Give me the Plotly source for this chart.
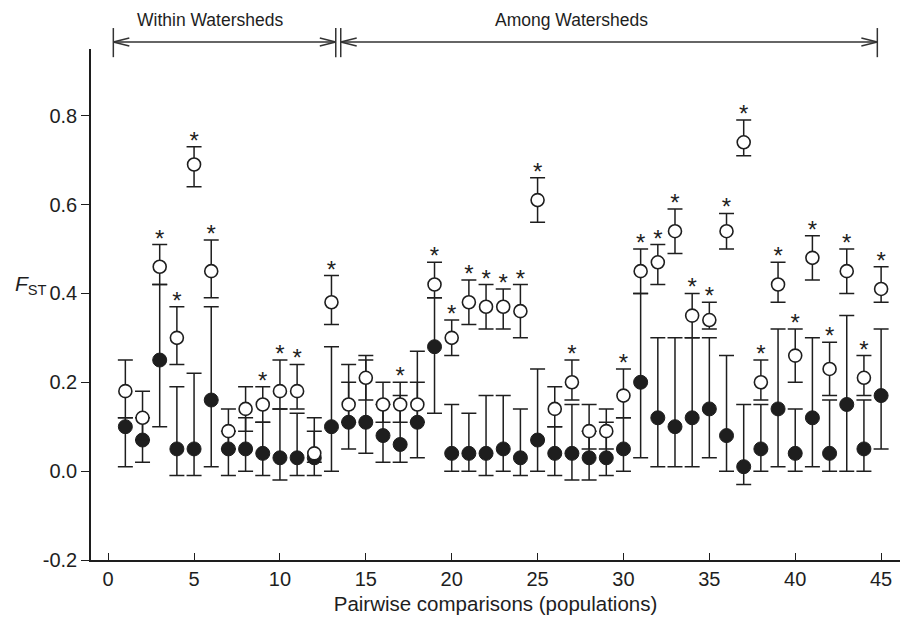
import plotly.graph_objects as go

comparisons = list(range(1, 46))

open_vals = [0.18, 0.12, 0.46, 0.30, 0.69, 0.45, 0.09, 0.14, 0.15, 0.18,
             0.18, 0.04, 0.38, 0.15, 0.21, 0.15, 0.15, 0.15, 0.42, 0.30,
             0.38, 0.37, 0.37, 0.36, 0.61, 0.14, 0.20, 0.09, 0.09, 0.17,
             0.45, 0.47, 0.54, 0.35, 0.34, 0.54, 0.74, 0.20, 0.42, 0.26,
             0.48, 0.23, 0.45, 0.21, 0.41]
open_lo = [0.12, 0.07, 0.42, 0.24, 0.64, 0.39, 0.05, 0.09, 0.11, 0.14,
           0.14, 0.02, 0.33, 0.11, 0.16, 0.11, 0.11, 0.11, 0.39, 0.26,
           0.33, 0.32, 0.32, 0.30, 0.56, 0.10, 0.16, 0.05, 0.05, 0.12,
           0.40, 0.42, 0.49, 0.30, 0.32, 0.50, 0.71, 0.16, 0.38, 0.20,
           0.43, 0.17, 0.40, 0.17, 0.38]
open_hi = [0.25, 0.18, 0.51, 0.37, 0.73, 0.52, 0.14, 0.19, 0.19, 0.25,
           0.24, 0.12, 0.44, 0.24, 0.26, 0.20, 0.20, 0.20, 0.47, 0.34,
           0.43, 0.42, 0.41, 0.42, 0.66, 0.19, 0.25, 0.15, 0.14, 0.23,
           0.50, 0.51, 0.59, 0.40, 0.38, 0.58, 0.79, 0.25, 0.47, 0.32,
           0.53, 0.29, 0.50, 0.26, 0.46]

filled_vals = [0.10, 0.07, 0.25, 0.05, 0.05, 0.16, 0.05, 0.05, 0.04, 0.03,
               0.03, 0.03, 0.10, 0.11, 0.11, 0.08, 0.06, 0.11, 0.28, 0.04,
               0.04, 0.04, 0.05, 0.03, 0.07, 0.04, 0.04, 0.03, 0.03, 0.05,
               0.20, 0.12, 0.10, 0.12, 0.14, 0.08, 0.01, 0.05, 0.14, 0.04,
               0.12, 0.04, 0.15, 0.05, 0.17]
filled_lo = [0.01, 0.02, 0.10, -0.01, -0.01, 0.01, -0.01, 0.00, -0.01, -0.02,
             -0.01, -0.01, 0.00, 0.05, 0.04, 0.02, 0.02, 0.03, 0.13, 0.00,
             0.00, -0.01, 0.00, -0.01, 0.00, -0.01, -0.02, -0.02, -0.01, 0.00,
             0.03, 0.01, 0.01, 0.01, 0.03, 0.00, -0.03, 0.00, 0.01, 0.00,
             0.01, 0.00, 0.00, 0.00, 0.05]
filled_hi = [0.12, 0.12, 0.42, 0.19, 0.22, 0.37, 0.09, 0.12, 0.11, 0.14,
             0.13, 0.09, 0.28, 0.20, 0.25, 0.15, 0.17, 0.27, 0.39, 0.15,
             0.13, 0.17, 0.17, 0.14, 0.23, 0.10, 0.15, 0.09, 0.11, 0.12,
             0.40, 0.30, 0.30, 0.30, 0.30, 0.26, 0.15, 0.15, 0.32, 0.14,
             0.30, 0.16, 0.35, 0.16, 0.32]

significant = [3, 4, 5, 6, 9, 10, 11, 13, 17, 19, 20, 21, 22, 23, 24, 25, 27,
               30, 31, 32, 33, 34, 35, 36, 37, 38, 39, 40, 41, 42, 43, 44, 45]

y_ticks = [-0.2, 0.0, 0.2, 0.4, 0.6, 0.8]
y_tick_labels = ["-0.2", "0.0", "0.2", "0.4", "0.6", "0.8"]
x_ticks = [0, 5, 10, 15, 20, 25, 30, 35, 40, 45]

INK = "#1e1e1e"
FONT = "Liberation Sans, Arial, Helvetica, sans-serif"

fig = go.Figure()

fig.add_trace(go.Scatter(
    x=comparisons, y=filled_vals, mode="markers",
    marker=dict(symbol="circle", size=14, color=INK, line=dict(color=INK, width=1)),
    error_y=dict(type="data", symmetric=False,
                 array=[h - v for h, v in zip(filled_hi, filled_vals)],
                 arrayminus=[v - l for v, l in zip(filled_vals, filled_lo)],
                 color=INK, thickness=1.5, width=7.5),
    showlegend=False, cliponaxis=False))

fig.add_trace(go.Scatter(
    x=comparisons, y=open_vals, mode="markers",
    marker=dict(symbol="circle", size=13, color="white", line=dict(color=INK, width=1.6)),
    error_y=dict(type="data", symmetric=False,
                 array=[h - v for h, v in zip(open_hi, open_vals)],
                 arrayminus=[v - l for v, l in zip(open_vals, open_lo)],
                 color=INK, thickness=1.5, width=7.5),
    showlegend=False, cliponaxis=False))

sig_y = [open_hi[i - 1] + 0.009 for i in significant]
fig.add_trace(go.Scatter(
    x=significant, y=sig_y, mode="text", text=["*"] * len(significant),
    textposition="middle center",
    textfont=dict(family=FONT, size=24, color=INK),
    showlegend=False, cliponaxis=False))

# Bracket annotations above plot
shapes = []
line_style = dict(color="#333333", width=1.5)
y_arrow = 1.0137
y_top, y_bot = 1.041, 0.984
ah_len, ah_h = 0.93, 0.0078
x_left, x_mid1, x_mid2, x_right = 0.3, 13.25, 13.54, 44.78
for xv in (x_left, x_mid1, x_mid2, x_right):
    shapes.append(dict(type="line", xref="x", yref="paper", x0=xv, x1=xv,
                       y0=y_bot, y1=y_top, line=line_style))
shapes.append(dict(type="line", xref="x", yref="paper", x0=x_left, x1=x_mid1,
                   y0=y_arrow, y1=y_arrow, line=line_style))
shapes.append(dict(type="line", xref="x", yref="paper", x0=x_mid2, x1=x_right,
                   y0=y_arrow, y1=y_arrow, line=line_style))
for tip, d in ((x_left, 1), (x_mid1, -1), (x_mid2, 1), (x_right, -1)):
    for s in (1, -1):
        shapes.append(dict(type="line", xref="x", yref="paper", x0=tip, x1=tip + d * ah_len,
                           y0=y_arrow, y1=y_arrow + s * ah_h, line=line_style))

annotations = [
    dict(text="Within Watersheds", x=5.95, y=(560 - 20) / 511, xref="x", yref="paper",
         xanchor="center", yanchor="middle",
         showarrow=False, font=dict(family=FONT, size=17.5, color=INK)),
    dict(text="Among Watersheds", x=26.95, y=(560 - 20) / 511, xref="x", yref="paper",
         xanchor="center", yanchor="middle",
         showarrow=False, font=dict(family=FONT, size=17.5, color=INK)),
    dict(text="<i>F</i><sub>ST</sub>", x=(31 - 91) / 809, y=(560 - 285) / 511,
         xref="paper", yref="paper", xanchor="center", yanchor="middle",
         showarrow=False, font=dict(family=FONT, size=21, color=INK)),
]

fig.update_layout(
    width=902, height=619,
    margin=dict(l=91, r=2, t=49, b=59),
    paper_bgcolor="white", plot_bgcolor="white",
    font=dict(family=FONT, size=20, color=INK),
    shapes=shapes, annotations=annotations,
    xaxis=dict(range=[-1, 46.1], tickvals=x_ticks, ticks="inside", ticklen=7,
               tickwidth=1.3, tickcolor=INK, showline=True, linecolor=INK, linewidth=1.5,
               showgrid=False, zeroline=False,
               title=dict(text="Pairwise comparisons (populations)",
                          font=dict(family=FONT, size=20.5, color=INK), standoff=8),
               tickfont=dict(family=FONT, size=20, color=INK)),
    yaxis=dict(range=[-0.2, 0.95], tickvals=y_ticks, ticktext=y_tick_labels, ticks="outside",
               ticklen=8, tickwidth=1.3, tickcolor=INK, showline=True, linecolor=INK,
               linewidth=1.5, showgrid=False, zeroline=False,
               tickfont=dict(family=FONT, size=20, color=INK)),
)

fig.write_html("out.html")
